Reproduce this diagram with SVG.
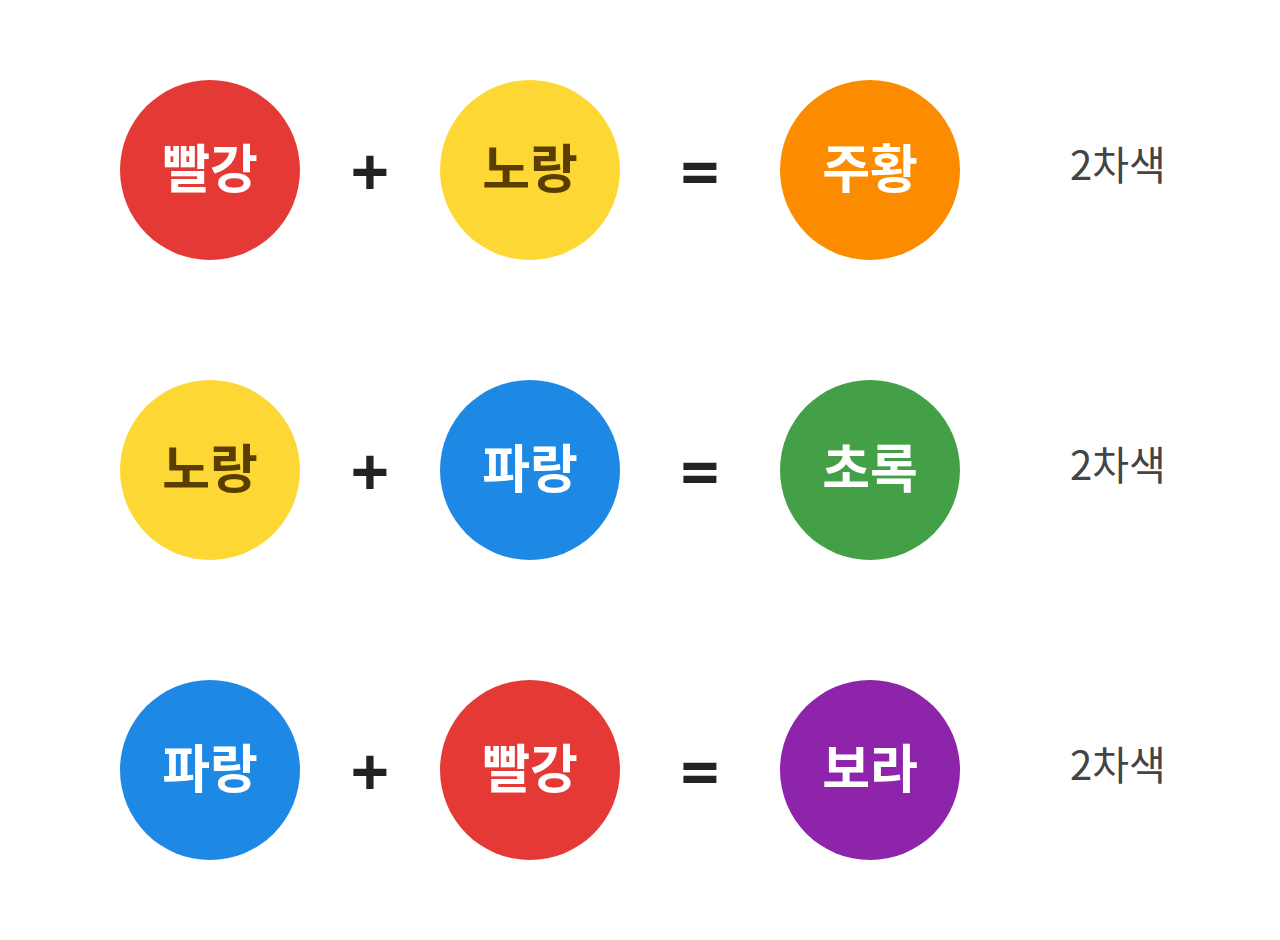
<svg xmlns="http://www.w3.org/2000/svg" width="1280" height="940" viewBox="0 0 1280 940">
<style>
.lbl{font-family:"Noto Sans CJK KR","Noto Sans",sans-serif;font-weight:bold;font-size:52px;text-anchor:middle;fill:#ffffff}
.dk{fill:#5a3e00}
.op{font-family:"Noto Sans","DejaVu Sans",sans-serif;font-weight:bold;font-size:68px;text-anchor:middle;fill:#222222}
.note{font-family:"Noto Sans CJK KR","Noto Sans",sans-serif;font-size:40px;text-anchor:middle;fill:#444444}
</style>
<rect width="1280" height="940" fill="#ffffff"/>
<g id="row1">
<g id="r1a"><circle cx="210" cy="170" r="90" fill="#E53935"/><text class="lbl" x="210" y="188">빨강</text></g>
<text class="op" x="370" y="197">+</text>
<g id="r1b"><circle cx="530" cy="170" r="90" fill="#FDD835"/><text class="lbl dk" x="530" y="188">노랑</text></g>
<text class="op" x="700" y="197">=</text>
<g id="r1c"><circle cx="870" cy="170" r="90" fill="#FB8C00"/><text class="lbl" x="870" y="188">주황</text></g>
<text class="note" x="1118" y="180">2차색</text>
</g>
<g id="row2">
<g id="r2a"><circle cx="210" cy="470" r="90" fill="#FDD835"/><text class="lbl dk" x="210" y="488">노랑</text></g>
<text class="op" x="370" y="497">+</text>
<g id="r2b"><circle cx="530" cy="470" r="90" fill="#1E88E5"/><text class="lbl" x="530" y="488">파랑</text></g>
<text class="op" x="700" y="497">=</text>
<g id="r2c"><circle cx="870" cy="470" r="90" fill="#43A047"/><text class="lbl" x="870" y="488">초록</text></g>
<text class="note" x="1118" y="480">2차색</text>
</g>
<g id="row3">
<g id="r3a"><circle cx="210" cy="770" r="90" fill="#1E88E5"/><text class="lbl" x="210" y="788">파랑</text></g>
<text class="op" x="370" y="797">+</text>
<g id="r3b"><circle cx="530" cy="770" r="90" fill="#E53935"/><text class="lbl" x="530" y="788">빨강</text></g>
<text class="op" x="700" y="797">=</text>
<g id="r3c"><circle cx="870" cy="770" r="90" fill="#8E24AA"/><text class="lbl" x="870" y="788">보라</text></g>
<text class="note" x="1118" y="780">2차색</text>
</g>
</svg>
